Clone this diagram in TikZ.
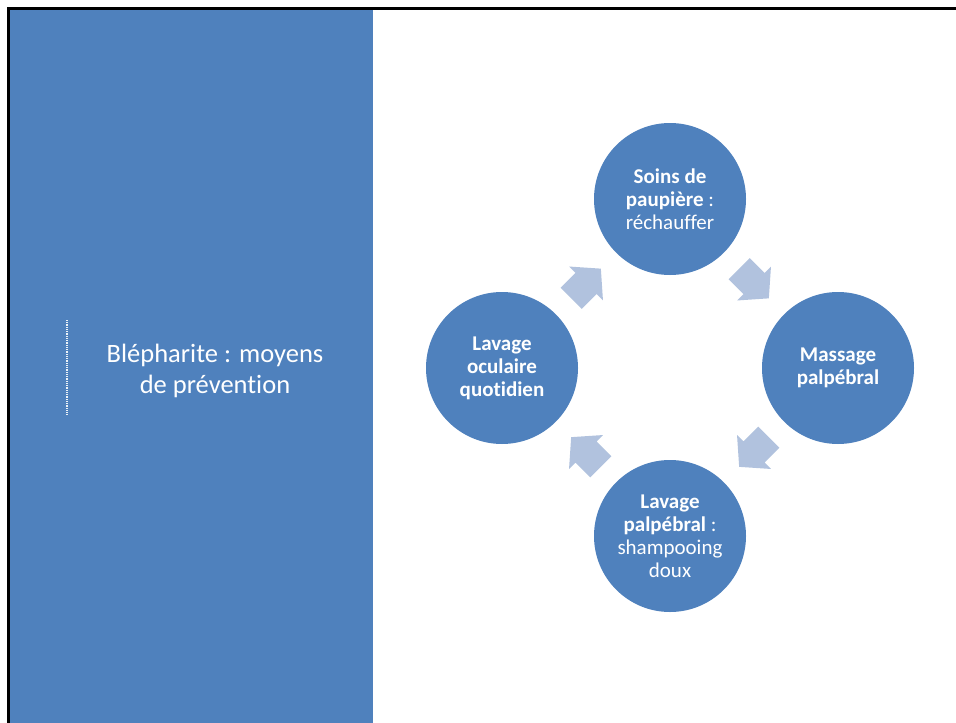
\documentclass[tikz,border=0pt]{standalone}
\usepackage{fontspec}
\setmainfont{Carlito}[Ligatures={NoCommon}]
\usetikzlibrary{calc}
\definecolor{mainblue}{RGB}{79,129,189}
\definecolor{arrowblue}{RGB}{177,194,222}
\newcommand{\cyclearrowpath}{(-21,-15) -- (0,-15) -- (0,-24) -- (21,0) -- (0,24) -- (0,15) -- (-21,15) -- cycle}
\begin{document}
\begin{tikzpicture}[x=1pt,y=-1pt,
  cyclenode/.style={circle, fill=mainblue, minimum size=152pt, inner sep=0pt, text=white, align=center, font=\fontsize{21}{23}\selectfont},
  cyclearrow/.style={fill=arrowblue, draw=none}]
\useasboundingbox (0,0) rectangle (956,723);
\fill[white] (0,0) rectangle (956,723);
\fill[mainblue] (10,10) rectangle (373,723);
\draw[line width=3pt] (8.5,723) -- (8.5,8.5) -- (956,8.5);
\draw[white!90!mainblue, line width=2.5pt, dash pattern=on 1pt off 0.8pt] (67,320) -- (67,415);
\node[text=white, align=center, font=\fontsize{26.5}{31}\selectfont] (title) at (215,371) {Blépharite : moyens\\de prévention};
\node[cyclenode] (top) at (670,199) {\textbf{Soins de}\\\textbf{paupière} :\\réchauffer};
\node[cyclenode] (right) at (838,368) {\textbf{Massage}\\\textbf{palpébral}};
\node[cyclenode] (bottom) at (670,536) {\textbf{Lavage}\\\textbf{palpébral} :\\shampooing\\doux};
\node[cyclenode] (left) at (502,368) {\textbf{Lavage}\\\textbf{oculaire}\\\textbf{quotidien}};
\coordinate (a1) at ($(left)!0.5!(top)$);
\coordinate (a2) at ($(top)!0.5!(right)$);
\coordinate (a3) at ($(right)!0.5!(bottom)$);
\coordinate (a4) at ($(bottom)!0.5!(left)$);
\fill[cyclearrow, shift={(a1)}, rotate=45] \cyclearrowpath;
\fill[cyclearrow, shift={(a2)}, rotate=-45] \cyclearrowpath;
\fill[cyclearrow, shift={(a3)}, rotate=-135] \cyclearrowpath;
\fill[cyclearrow, shift={(a4)}, rotate=135] \cyclearrowpath;
\end{tikzpicture}
\end{document}
